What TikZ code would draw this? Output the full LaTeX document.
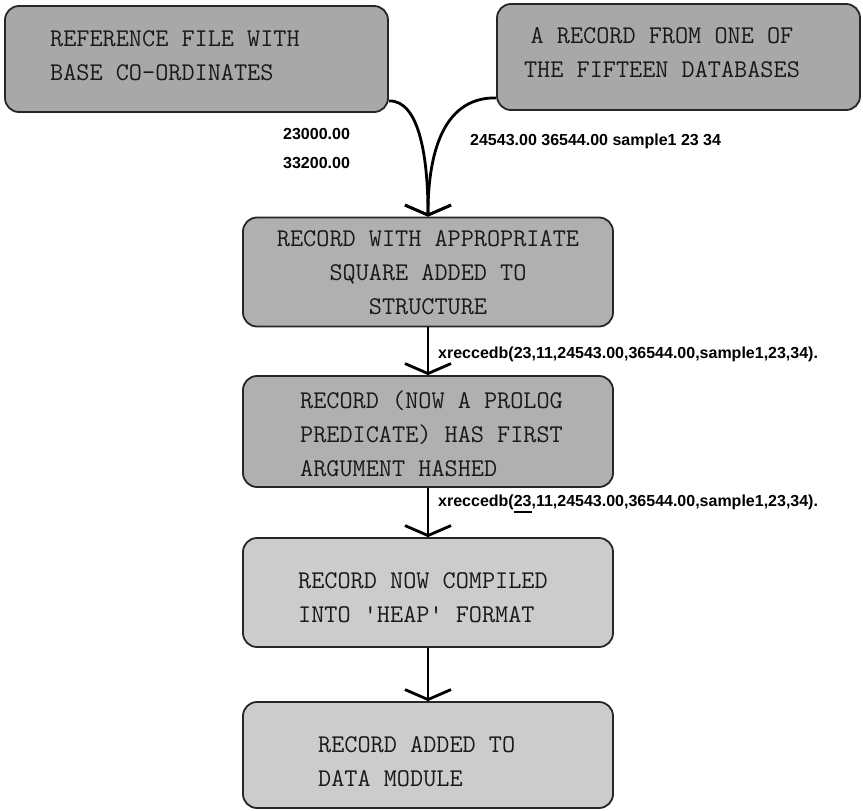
\documentclass[tikz,border=0pt]{standalone}
\usepackage{fontspec}
\newfontfamily\labfont{Liberation Sans}
\usetikzlibrary{arrows.meta}
\begin{document}
\begin{tikzpicture}[x=1pt,y=-1pt,
  box/.style={draw=black!85, line width=1.8pt, rounded corners=14pt, inner sep=0pt},
  dark/.style={box, fill=black!34},
  mid/.style={box, fill=black!31},
  light/.style={box, fill=black!20},
  btext/.style={font=\ttfamily\fontsize{25.5}{34}\selectfont, text=black!90, inner sep=0pt},
  lab/.style={font=\labfont\bfseries\fontsize{16}{18}\selectfont, inner sep=0pt, anchor=west},
  conn/.style={line width=2.8pt, -{Straight Barb[length=10pt,width=46pt,line width=2.8pt]}},
]
\useasboundingbox (0,0) rectangle (863,811);

% boxes
\node[dark, minimum width=383pt, minimum height=106pt] (b1) at (196.5,59) {};
\node[dark, minimum width=363pt, minimum height=106pt] (b2) at (678.5,57) {};
\node[mid, minimum width=370pt, minimum height=109pt] (b3) at (428,272) {};
\node[mid, minimum width=370pt, minimum height=111pt] (b4) at (428,431.5) {};
\node[light, minimum width=370pt, minimum height=109pt] (b5) at (428,592.5) {};
\node[light, minimum width=370pt, minimum height=106pt] (b6) at (428,755) {};

% box texts
\node[btext, anchor=west, align=left] (t1) at (50,56) {REFERENCE FILE WITH\\BASE CO-ORDINATES};
\node[btext, align=center] (t2) at (662,53) {A RECORD FROM ONE OF\\THE FIFTEEN DATABASES};
\node[btext, align=center] (t3) at (428,273) {RECORD WITH APPROPRIATE\\SQUARE ADDED TO\\STRUCTURE};
\node[btext, anchor=west, align=left] (t4) at (300,434) {RECORD (NOW A PROLOG\\PREDICATE) HAS FIRST\\ARGUMENT HASHED};
\node[btext, anchor=west, align=left] (t5) at (298,598) {RECORD NOW COMPILED\\INTO 'HEAP' FORMAT};
\node[btext, anchor=west, align=left] (t6) at (318,762) {RECORD ADDED TO\\DATA MODULE};

% small labels
\node[lab] (l1) at (283,134) {23000.00};
\node[lab] (l2) at (283,163) {33200.00};
\node[lab] (l3) at (470,141) {24543.00 36544.00 sample1 23 34};
\node[lab] (l4) at (438,354) {xreccedb(23,11,24543.00,36544.00,sample1,23,34).};
\node[lab] (l5) at (438,504) {xreccedb(\rlap{\rule[-7pt]{18pt}{2.6pt}}23,11,24543.00,36544.00,sample1,23,34).};

% connectors
\draw[conn] ([yshift=12pt]b1.south east) .. controls (420,100) and (428,160) .. (b3.north);
\draw[conn] ([yshift=13pt]b2.south west) .. controls (440,97) and (428,160) .. (b3.north);
\draw[conn] (b3.south) -- (b4.north);
\draw[conn] (b4.south) -- (b5.north);
\draw[conn] (b5.south) -- (b6.north);
\end{tikzpicture}
\end{document}
